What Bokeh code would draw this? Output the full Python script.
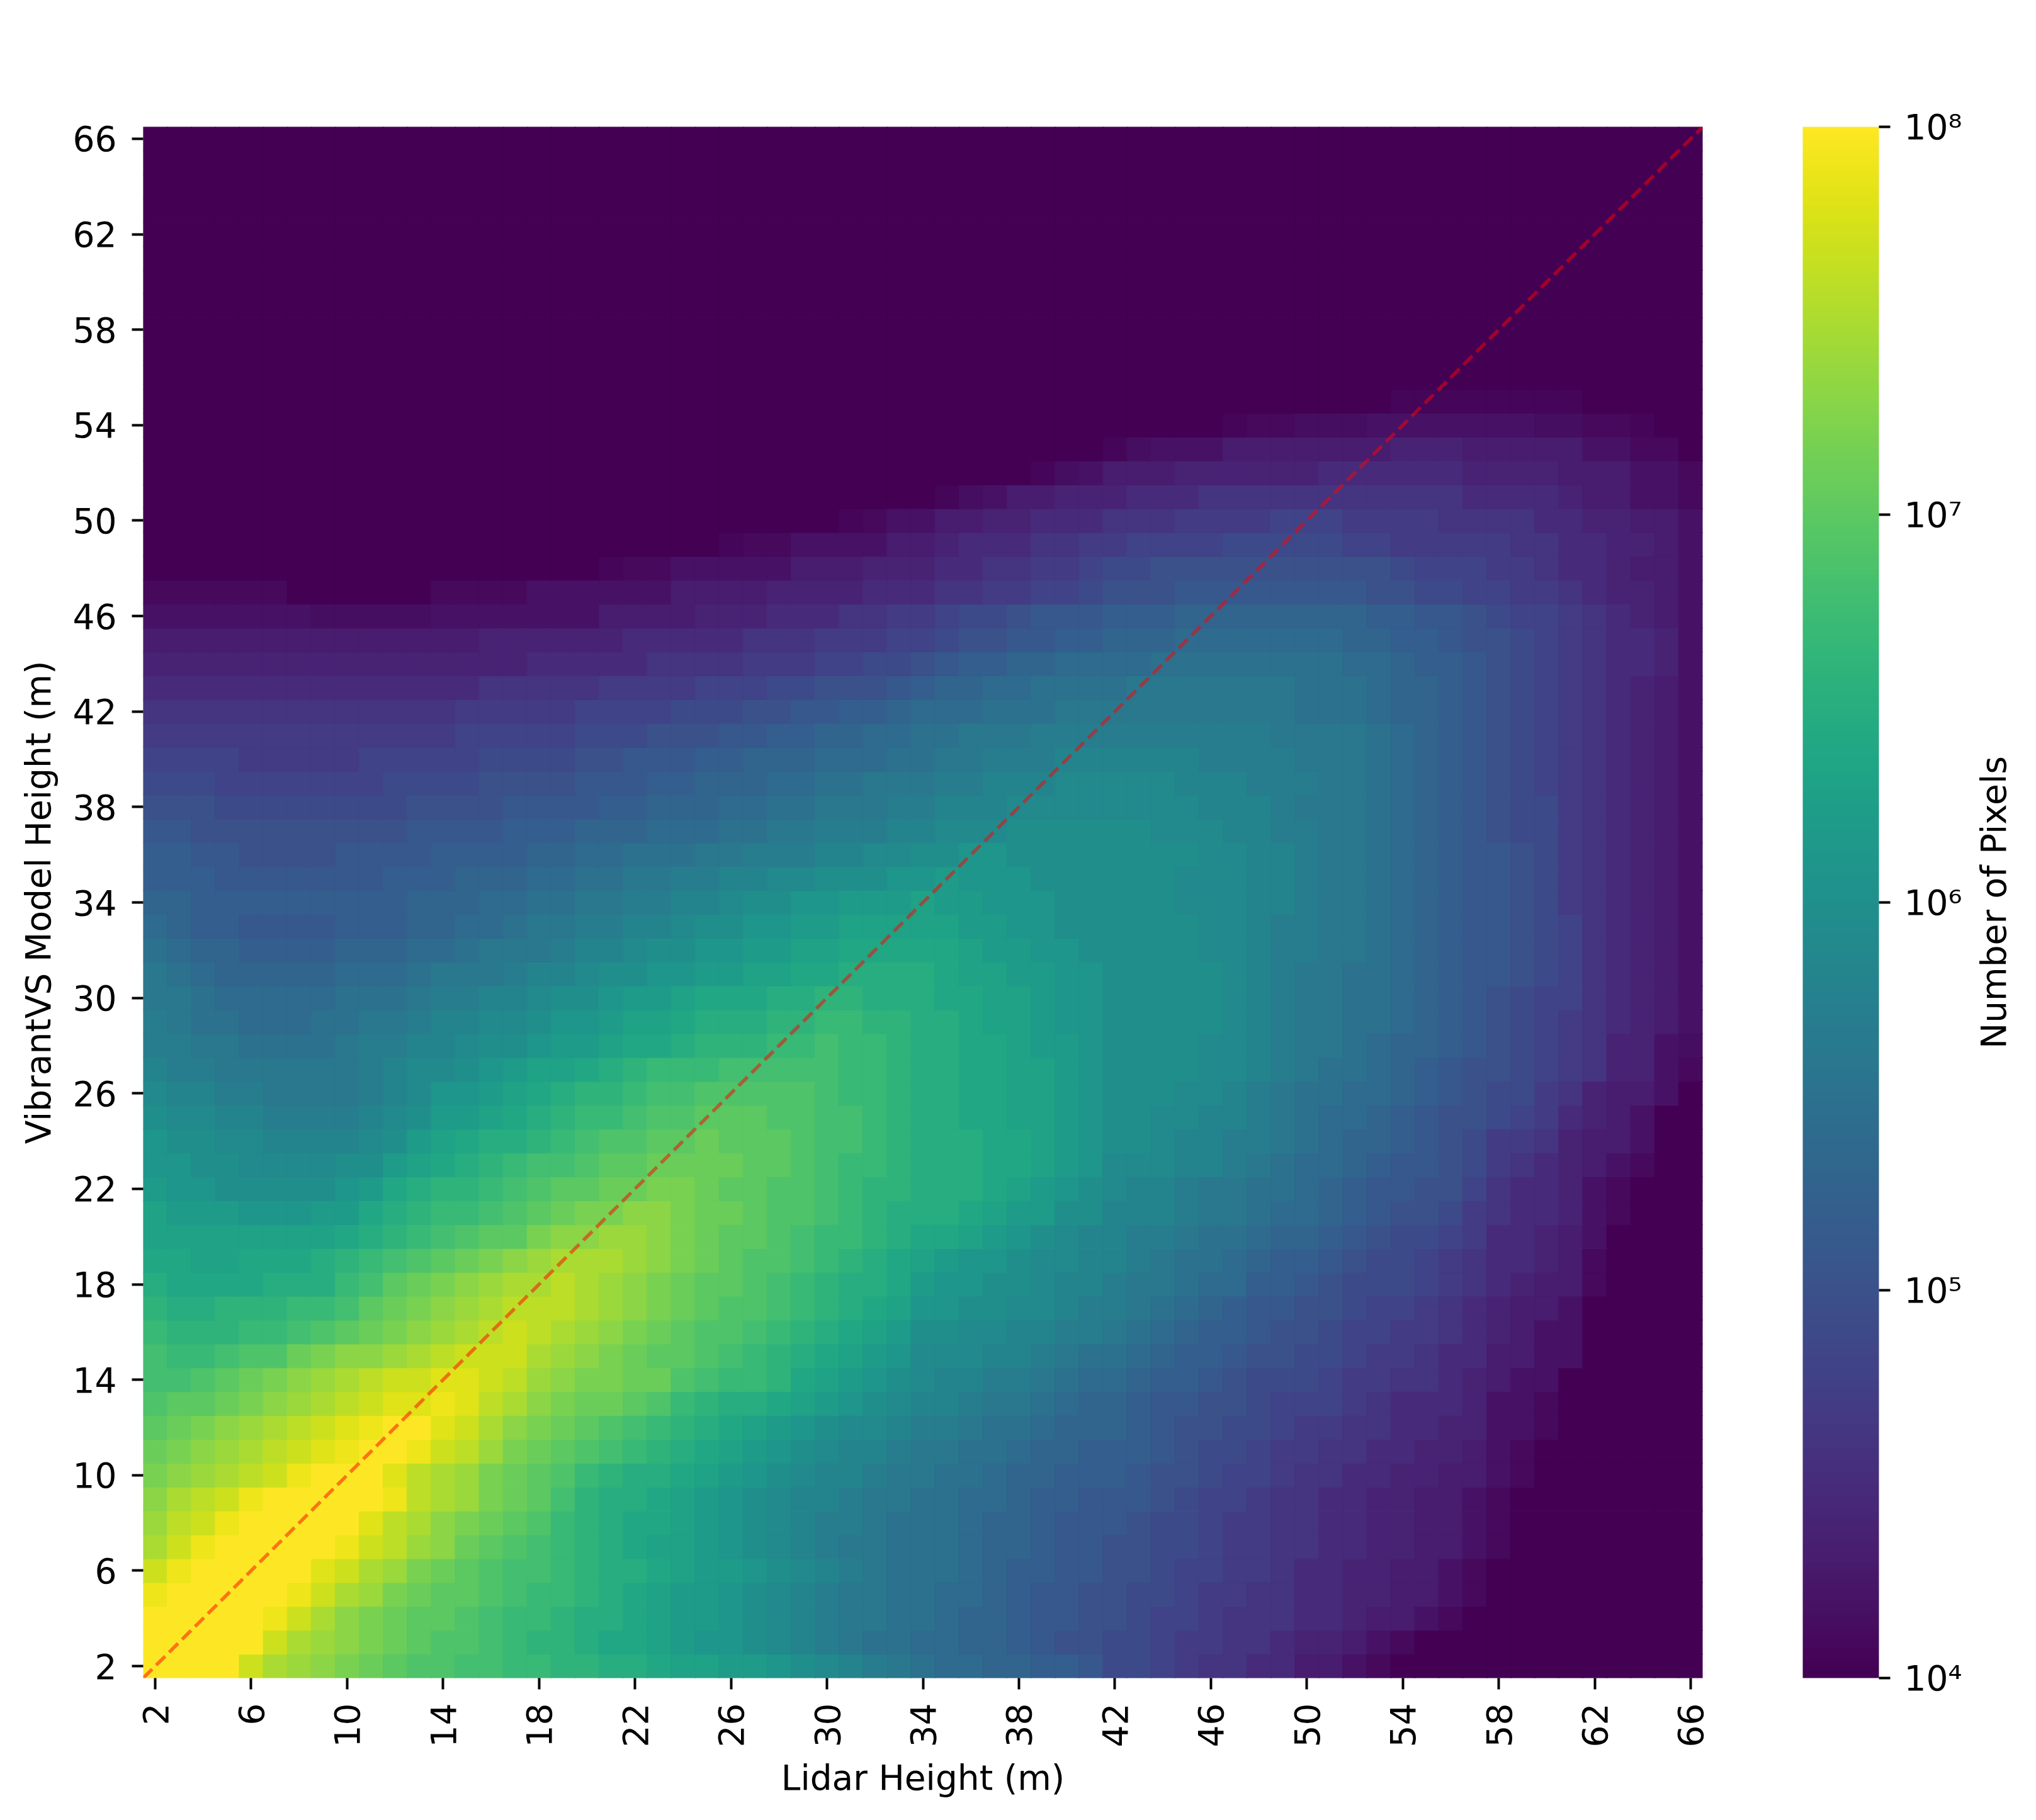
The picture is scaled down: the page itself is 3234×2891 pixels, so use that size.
from math import pi
from bokeh.plotting import figure
from bokeh.models import (ColumnDataSource, LogColorMapper, ColorBar, FixedTicker, Label)
from bokeh.palettes import Viridis256
from bokeh.transform import transform
from bokeh.embed import file_html
from bokeh.resources import INLINE

# log10(pixel count) x 10; each list runs from Lidar 2 m to 66 m
x_vals = list(range(2, 67))
y_vals = list(range(2, 67))
x_ticks = list(range(2, 67, 4))
y_ticks = list(range(2, 67, 4))
cbar_ticks = [1e4, 1e5, 1e6, 1e7, 1e8]
cbar_labels = {1e4: "10⁴", 1e5: "10⁵", 1e6: "10⁶", 1e7: "10⁷", 1e8: "10⁸"}

F8 = [40, 40, 40, 40, 40, 40, 40, 40]

h02 = [80,80,80,80,77,75,74,73, 72,71,70,69,69,68,68,67, 67,66,66,65,65,64,63,63, 62,62,61,60,59,58,57,56, 55,54,54,53,53,52,52,51, 49,49,48,47,46,46,45,45, 43,43,42,41,40,40,40,40, 40,40,40,40,40,40,40,40, 40]
h03 = [80,80,80,80,80,77,75,74, 73,72,71,70,69,69,68,67, 66,66,65,64,64,63,62,61, 61,60,59,58,57,56,55,55, 54,54,53,53,52,51,50,50, 49,49,48,47,47,46,46,45, 44,44,43,42,41,40,40,40, 40,40,40,40,40,40,40,40, 40]
h04 = [80,80,80,80,80,79,77,75, 73,72,71,70,70,69,68,67, 67,66,65,65,64,63,62,62, 61,60,59,58,57,56,56,55, 55,54,53,53,52,51,51,50, 50,49,48,48,47,46,46,46, 45,45,44,43,43,42,41,40, 40,40,40,40,40,40,40,40, 40]
h05 = [79,80,80,80,80,80,79,77, 75,74,72,71,70,70,69,68, 67,67,66,65,64,63,62,62, 61,60,59,58,57,56,56,55, 55,54,54,53,52,51,51,50, 50,49,49,48,47,47,46,46, 45,45,44,44,43,43,42,41, 40,40,40,40,40,40,40,40, 40]
h06 = [77,79,80,80,80,80,80,78, 77,75,74,72,71,70,69,68, 68,67,66,65,65,64,63,62, 62,61,60,59,58,57,56,55, 55,55,54,53,52,52,51,51, 50,50,49,48,48,47,47,46, 45,45,44,44,43,43,42,41, 40,40,40,40,40,40,40,40, 40]
h07 = [75,77,79,80,80,80,80,80, 79,77,76,74,73,71,70,69, 68,67,66,65,64,63,63,62, 61,60,59,58,57,56,56,55, 55,55,54,53,53,52,51,51, 50,50,49,49,48,47,47,46, 46,45,45,44,44,43,43,42, 41,40,40,40,40,40,40,40, 40]
h08 = [74,76,77,79,80,80,80,80, 80,78,76,75,73,72,71,70, 69,67,66,65,64,64,63,62, 61,60,59,58,57,57,56,55, 55,55,54,53,53,52,51,51, 51,50,49,49,48,47,47,46, 46,45,45,44,44,43,43,42, 41,40,40,40,40,40,40,40, 40]
h09 = [73,75,76,77,79,80,80,80, 80,80,79,76,75,74,72,71, 70,68,66,65,65,64,63,62, 61,60,59,58,58,57,56,56, 55,55,54,54,53,52,52,51, 51,51,50,49,48,48,47,46, 46,45,45,44,44,43,43,42, 41,40,40,40,40,40,40,40, 40]
h10 = [72,73,74,75,76,77,79,80, 80,80,78,76,75,74,72,71, 70,69,67,66,65,65,64,63, 62,61,60,59,58,58,57,56, 56,55,55,54,53,53,52,52, 52,51,50,50,49,48,48,47, 46,46,45,45,44,44,43,43, 42,41,40,40,40,40,40,40, 40]
h11 = [71,72,73,74,75,76,77,78, 79,80,80,79,77,76,74,72, 71,70,69,68,67,66,65,64, 63,62,61,60,59,58,58,57, 56,56,55,55,54,53,53,52, 52,52,51,50,49,49,48,47, 47,46,46,45,45,44,44,43, 42,41,40,40,40,40,40,40, 40]
h12 = [70,71,72,73,74,75,76,77, 78,79,80,80,78,77,75,73, 72,71,70,69,68,67,66,65, 64,63,62,61,60,59,59,58, 57,57,56,55,55,54,53,53, 53,52,51,50,50,49,49,48, 47,47,46,46,45,45,44,44, 42,42,41,40,40,40,40,40, 40]
h13 = [69,70,70,71,72,73,74,75, 76,77,78,78,79,78,76,75, 73,72,71,71,70,69,67,66, 65,65,64,63,62,61,60,59, 58,58,57,56,56,55,54,53, 53,52,51,51,50,50,49,48, 48,48,47,46,45,45,45,44, 42,42,41,40,40,40,40,40, 40]
h14 = [68,68,69,70,71,72,73,74, 75,76,77,77,78,78,77,76, 74,73,72,72,71,71,69,68, 67,67,66,64,63,62,61,60, 59,58,58,57,57,56,55,54, 54,53,52,52,51,50,49,49, 49,48,47,47,46,46,45,44, 43,42,42,40,40,40,40,40, 40]
h15 = [68,67,67,68,69,69,71,72, 73,73,74,75,76,77,77,77, 75,74,73,72,71,70,70,69, 68,67,66,65,64,63,62,61, 59,59,59,58,58,57,56,55, 55,54,53,52,52,51,50,50, 49,49,48,47,47,46,45,45, 43,43,42,42,40,40,40,40, 40]
h16 = [67,66,66,66,67,67,68,69, 70,71,72,73,74,75,76,77, 76,75,74,73,72,71,70,69, 69,68,67,66,65,64,63,62, 60,60,59,59,58,58,57,57, 56,55,54,53,52,52,51,50, 50,49,48,48,47,47,46,45, 44,43,42,42,40,40,40,40, 40]
h17 = [66,65,65,66,66,66,67,67, 68,70,71,72,73,74,75,76, 76,76,75,74,73,72,71,70, 69,69,68,67,66,65,64,63, 61,61,60,60,59,59,58,57, 57,56,55,54,53,52,51,51, 50,50,49,48,48,47,46,45, 44,43,43,42,40,40,40,40, 40]
h18 = [65,64,64,64,64,65,65,65, 67,68,70,71,72,73,74,75, 75,76,75,74,73,72,71,70, 70,69,68,67,66,65,65,64, 62,61,61,60,60,59,58,58, 57,56,56,55,54,54,52,52, 51,50,49,49,49,48,47,46, 45,44,43,43,41,40,40,40, 40]
h19 = [64,64,63,63,64,64,64,65, 66,67,68,69,70,71,72,73, 74,75,75,75,74,73,72,71, 70,69,69,68,67,66,65,64, 63,62,61,61,60,59,59,58, 58,57,56,55,55,54,53,52, 52,51,50,49,49,48,47,46, 45,45,44,43,41,40,40,40, 40]
h20 = [63,63,63,63,63,63,63,63, 64,65,66,67,68,69,70,70, 72,73,73,74,74,73,72,71, 70,70,69,68,67,67,66,65, 64,64,63,62,61,60,59,58, 58,57,57,56,55,55,54,53, 53,52,51,50,49,49,48,47, 45,45,44,43,42,40,40,40, 40]
h21 = [63,62,62,62,61,61,61,62, 62,64,65,66,67,67,68,69, 70,71,72,72,73,73,72,71, 71,70,69,69,68,67,66,65, 65,65,64,63,62,62,60,60, 58,58,58,57,56,56,55,54, 54,53,52,51,50,50,49,47, 46,45,45,44,42,41,40,40, 40]
h22 = [62,61,61,60,60,60,60,60, 61,62,64,65,66,66,67,68, 69,70,70,71,71,72,72,71, 70,70,69,69,68,67,66,66, 65,65,65,64,63,62,61,60, 59,58,58,57,56,56,55,55, 54,53,52,51,51,50,50,48, 46,45,45,44,42,41,40,40, 40]
h23 = [61,61,60,60,59,59,59,59, 60,60,62,63,64,65,66,67, 68,68,69,70,70,71,71,71, 71,70,70,69,68,67,67,66, 65,65,65,64,64,63,62,61, 59,59,59,58,58,57,56,55, 54,54,53,52,51,51,50,49, 47,46,45,44,43,42,41,40, 40]
h24 = [61,60,60,59,59,58,58,58, 58,59,60,62,63,64,65,65, 66,67,68,69,69,70,70,71, 70,70,70,69,68,68,67,66, 65,65,65,64,64,63,62,61, 60,60,59,58,58,57,57,56, 55,54,53,53,52,51,50,49, 47,47,46,44,43,43,42,40, 40]
h25 = [60,59,59,58,58,57,57,57, 57,58,59,60,62,62,63,64, 65,66,67,67,68,69,69,70, 70,70,69,69,68,68,67,66, 65,65,64,64,63,63,62,61, 60,60,59,59,58,58,57,56, 55,54,54,53,52,51,50,50, 49,48,47,45,44,43,42,40, 40]
h26 = [59,58,58,57,57,56,56,56, 56,57,58,59,61,61,62,63, 64,65,66,66,67,68,68,69, 69,69,69,69,68,67,67,66, 65,65,64,64,63,63,62,61, 60,60,60,59,59,58,57,56, 55,55,54,54,53,52,51,50, 49,49,47,46,44,43,43,42, 40]
h27 = [58,57,57,56,56,56,56,56, 56,57,58,59,59,60,61,62, 63,63,64,65,66,67,67,67, 68,68,68,68,68,67,67,66, 65,65,64,64,63,63,62,61, 60,60,60,60,59,59,58,57, 56,55,55,54,53,52,51,50, 50,49,48,47,46,44,44,42, 41]
h28 = [57,57,56,56,55,55,55,55, 56,57,57,58,58,59,60,60, 61,62,62,63,64,64,65,66, 66,66,67,67,68,67,67,66, 65,65,64,64,63,62,62,61, 60,60,60,60,59,59,58,57, 56,56,55,54,53,53,52,51, 50,49,48,47,46,44,44,42, 41.5]
h29 = [57,56,55,55,54,54,54,55, 55,56,56,57,58,58,59,59, 60,61,61,62,63,63,64,65, 65,65,66,66,67,67,66,66, 65,65,64,63,63,62,61,61, 60,60,60,60,60,59,58,57, 56,56,55,55,54,53,52,51, 50,49,48,47,46,45,44,43, 42]
h30 = [56,56,55,54,54,54,54,54, 55,55,55,56,57,57,58,58, 59,60,60,61,62,62,63,64, 64,64,65,65,66,66,65,65, 65,64,64,63,63,62,61,61, 60,60,60,60,60,59,58,57, 56,56,55,55,54,53,52,51, 50,49,48,48,46,45,44,43, 42]
h31 = [56,55,54,53,53,53,53,53, 54,54,54,55,56,56,56,57, 58,58,59,60,60,61,61,62, 62,63,63,64,64,65,65,65, 65,64,63,63,62,62,61,61, 60,60,60,60,60,59,58,57, 56,56,55,55,54,53,52,51, 51,50,49,48,46,45,44,43, 42]
h32 = [55,54,53,53,52,52,52,52, 53,53,53,54,54,55,56,56, 56,57,58,58,59,60,60,61, 61,62,62,63,63,64,64,64, 64,64,63,62,62,61,61,60, 60,60,60,60,59,59,58,57, 57,56,56,55,54,53,52,51, 51,50,49,48,46,45,44,43, 42]
h33 = [54,53,52,52,51,51,51,51, 52,52,52,53,53,54,54,55, 56,56,57,57,58,58,59,60, 60,61,61,62,62,63,63,63, 63,63,62,62,61,61,60,60, 60,60,60,60,59,59,58,57, 57,56,56,55,54,53,52,51, 51,50,49,48,46,45,44,43, 42]
h34 = [53,53,52,52,52,52,52,52, 52,52,52,53,53,53,54,54, 55,55,56,56,57,57,58,58, 59,60,60,61,61,62,62,62, 63,62,62,61,61,61,60,60, 60,60,60,59,59,59,58,58, 57,56,56,55,54,53,52,51, 51,50,49,47,46,45,44,43, 42]
h35 = [52,52,52,51,51,51,51,51, 51,51,52,52,52,53,53,53, 54,54,55,55,56,56,57,57, 58,58,59,59,60,60,60,61, 61,62,61,61,61,60,60,60, 60,60,60,59,59,59,58,58, 57,56,56,55,54,53,52,51, 51,50,49,47,46,45,44,43, 42]
h36 = [52,52,51,51,50,50,50,50, 51,51,51,51,52,52,52,52, 53,53,54,54,55,55,55,56, 56,57,57,57,58,58,59,59, 60,60,61,61,60,60,60,60, 60,60,60,60,59,59,58,58, 57,56,56,55,54,53,52,51, 51,50,49,47,46,45,44,43, 42]
h37 = [51,51,50,50,50,50,50,50, 50,50,50,51,51,51,51,52, 52,52,53,53,53,54,54,54, 55,55,56,56,57,57,57,58, 58,59,59,59,60,60,60,60, 60,60,59,59,59,58,58,57, 57,56,56,55,54,53,52,51, 50,49,49,47,46,45,44,43, 42]
h38 = [50,50,50,49,49,49,49,49, 49,49,49,50,50,50,50,51, 51,51,51,52,52,53,53,53, 54,54,55,55,56,56,56,57, 57,58,58,58,59,59,59,59, 59,59,59,59,58,58,58,57, 56,56,56,55,54,53,52,51, 50,49,49,47,46,45,44,43, 42]
h39 = [49,49,49,48,48,48,48,48, 48,48,49,49,49,49,50,50, 50,50,51,51,51,52,52,53, 53,53,54,54,55,55,56,56, 56,57,57,58,58,58,59,59, 59,59,59,58,58,58,57,57, 57,56,56,55,54,53,52,51, 50,49,48,47,46,45,44,43, 42]
h40 = [48,48,48,48,47,47,47,47, 47,48,48,48,48,48,49,49, 49,49,50,50,51,51,51,52, 52,53,53,53,54,54,54,55, 55,56,56,57,57,57,58,58, 58,58,58,58,57,57,57,57, 56,56,56,55,54,53,52,51, 50,49,48,47,46,45,44,43, 42]
h41 = [47,47,47,47,47,47,47,47, 47,47,47,47,47,48,48,48, 48,48,49,49,49,50,50,50, 51,51,52,52,53,53,54,54, 55,55,56,56,56,57,57,57, 57,57,57,57,57,57,57,56, 56,56,56,55,54,53,52,51, 50,49,48,47,46,45,44,43, 42]
h42 = [46,46,46,46,46,46,46,46, 46,46,46,46,46,47,47,47, 47,47,48,48,48,48,49,49, 49,50,50,51,51,52,52,53, 54,54,54,55,55,55,56,56, 56,56,56,56,56,56,56,56, 55,55,55,54,53,53,52,51, 50,49,48,47,46,45,44,43, 42]
h43 = [45,45,45,45,45,45,45,45, 45,45,45,45,45,45,46,46, 46,46,46,47,47,47,47,48, 48,48,49,49,50,50,50,51, 52,53,53,54,54,55,55,55, 55,56,56,56,56,56,56,56, 55,55,55,54,53,53,52,51, 50,49,48,47,46,45,44,43, 42]
h44 = [44,44,44,44,44,44,44,44, 44,44,44,44,44,44,44,44, 45,45,45,45,45,46,46,46, 46,47,47,47,48,48,49,49, 50,51,52,52,53,53,54,54, 54,54,55,55,55,55,55,55, 55,55,54,54,53,52,52,51, 50,49,48,47,46,45,45,44, 42]
h45 = [43,43,43,43,43,43,43,43, 43,43,43,43,43,43,44,44, 44,44,44,44,45,45,45,45, 45,46,46,46,47,47,47,48, 48,49,50,50,51,51,52,52, 53,53,53,54,54,54,54,54, 54,54,53,53,52,52,51,50, 50,49,48,47,46,45,45,44, 42]
h46 = [42,42,42,42,42,42,42,41.5, 41.5,41.5,41.5,41.5,42,42,42,42, 42,42,42,43,43,43,43,44, 44,44,45,45,45,46,46,47, 47,48,49,49,50,51,51,51, 52,52,52,53,53,53,53,53, 53,53,53,52,52,51,51,50, 49,48,48,47,46,45,44,43, 42]
h47 = [41,41,41,41,41,41,40,40, 40,40,40,40,41,41,41,41, 42,42,42,42,42,42,43,43, 43,43,44,44,44,44,45,45, 45,46,46,47,47,48,48,49, 50,50,50,51,51,51,51,51, 51,51,51,50,50,49,49,48, 48,47,47,46,45,44,44,43, 42]
h48 = [40,40,40,40,40,40,40,40, 40,40,40,40,40,40,40,40, 40,40,40,40.5,41,41,42,42, 42,42,42,43,43,43,44,44, 44,45,45,46,46,47,47,48, 49,49,50,50,50,50,50,50, 50,50,50,50,49,48,48,48, 47,47,46,45,45,44,43,43, 42]
h49 = F8 + F8 + F8 + [40.5,41,41,42,42,42,42,43, 43,44,45,45,45,46,46,47, 47,48,48,48,48,49,49,49, 49,49,48,48,47,47,47,47, 47,46,46,45,45,44,44,43, 42]
h50 = F8 + F8 + F8 + [40,40,40,40,40,40.5,41,42, 42,43,43,44,44,45,45,45, 46,46,46,47,47,47,47,48, 48,48,47,47,47,47,46,46, 46,46,45,45,44,44,43,43, 42]
h51 = F8 + F8 + F8 + F8 + [40,40.5,41.5,42,43,43,44,44, 44,45,45,45,46,46,46,46, 46,46,46,46,46,46,46,45, 45,45,45,44,43,43,42,42, 41]
h52 = F8 + F8 + F8 + F8 + [40,40,40,40,40,40.5,41.5,42, 43,43,43,44,44,44,44,44, 44,45,45,45,45,45,45,44, 44,44,44,43,43,43,42,42, 41]
h53 = F8 + F8 + F8 + F8 + F8 + [40.5,41.5,42,42,42,43,43,43, 43,43,43,43,44,44,44,43, 43,43,43,43,42,42,41,41, 40]
h54 = F8 + F8 + F8 + F8 + F8 + [40,40,40,40,40,40.5,41,41, 41.5,41.5,41.5,42,42,42,42,42, 42,42,41.5,41.5,41,41,40.5,40, 40]
h55 = F8 + F8 + F8 + F8 + F8 + F8 + [40,40,40,40,40.5,40.5,40.5,40.5, 40.5,40.5,40.5,40.5,40,40,40,40, 40]
h56 = [40] * 65
h57 = [40] * 65
h58 = [40] * 65
h59 = [40] * 65
h60 = [40] * 65
h61 = [40] * 65
h62 = [40] * 65
h63 = [40] * 65
h64 = [40] * 65
h65 = [40] * 65
h66 = [40] * 65

rows = [h02,h03,h04,h05,h06,h07,h08,h09,h10,h11,h12,h13,h14,h15,h16,h17,h18,h19,h20,h21,h22,h23,h24,h25,h26,h27,h28,h29,h30,h31,h32,h33,h34,h35,h36,h37,h38,h39,h40,h41,h42,h43,h44,h45,h46,h47,h48,h49,h50,h51,h52,h53,h54,h55,h56,h57,h58,h59,h60,h61,h62,h63,h64,h65,h66]
for yv, r in zip(y_vals, rows):
    assert len(r) == 65, (yv, len(r))

xs, ys, counts = [], [], []
for yv, r in zip(y_vals, rows):
    for xv, v in zip(x_vals, r):
        xs.append(xv)
        ys.append(yv)
        counts.append(10 ** (v / 10))

FONT = "DejaVu Sans"
FS = "55px"
low, high = x_vals[0] - 0.5, x_vals[-1] + 0.5

src = ColumnDataSource(dict(x=xs, y=ys, count=counts))
mapper = LogColorMapper(palette=Viridis256, low=cbar_ticks[0], high=cbar_ticks[-1])

FW, FH = 2477, 2464
p = figure(width=3230, height=2883, frame_width=FW, frame_height=FH,
           x_range=(low, high), y_range=(low, high),
           output_backend="svg", toolbar_location=None,
           min_border_left=227, min_border_top=201, min_border_right=526, min_border_bottom=218)
p.grid.visible = False
p.outline_line_color = None
p.background_fill_color = None

p.rect("x", "y", width=1, height=1, source=src, dilate=True,
       fill_color=transform("count", mapper), line_color=transform("count", mapper), line_width=1)
p.line([low, high], [low, high], line_color="red", line_alpha=0.5, line_width=5.5, line_dash="20 9")

for ax, ticks, lab in ((p.xaxis[0], x_ticks, "Lidar Height (m)"), (p.yaxis[0], y_ticks, "VibrantVS Model Height (m)")):
    ax.ticker = FixedTicker(ticks=ticks)
    ax.axis_line_color = None
    ax.major_tick_out = 18
    ax.major_tick_in = 0
    ax.minor_tick_line_color = None
    ax.major_tick_line_width = 4
    ax.major_tick_line_color = "black"
    ax.major_label_text_font = FONT
    ax.major_label_text_font_size = FS
    ax.major_label_text_color = "black"
    ax.major_label_standoff = 22
    ax.axis_label = lab
    ax.axis_label_text_font = FONT
    ax.axis_label_text_font_size = FS
    ax.axis_label_text_font_style = "normal"
    ax.axis_label_text_color = "black"
    ax.axis_label_standoff = 14
p.xaxis[0].major_label_orientation = pi / 2
p.yaxis[0].major_label_standoff = 24
p.yaxis[0].axis_label_standoff = 20

cb = ColorBar(color_mapper=mapper, ticker=FixedTicker(ticks=cbar_ticks),
              major_label_overrides=cbar_labels,
              location=(FW + 159, 0), width=121, height=FH, padding=0, margin=0,
              major_tick_in=0, major_tick_out=18, major_tick_line_color="black", major_tick_line_width=4,
              minor_tick_line_color=None, bar_line_color=None, border_line_color=None,
              background_fill_color=None,
              major_label_text_font=FONT, major_label_text_font_size=FS, major_label_text_color="black",
              label_standoff=22)
p.add_layout(cb)

p.add_layout(Label(x=3166, y=1433, x_units="canvas", y_units="canvas", angle=pi / 2,
                   text="Number of Pixels", text_font=FONT, text_font_size=FS, text_color="black",
                   text_align="center", text_baseline="middle"), "right")

open("out.html", "w").write(file_html(p, INLINE))
